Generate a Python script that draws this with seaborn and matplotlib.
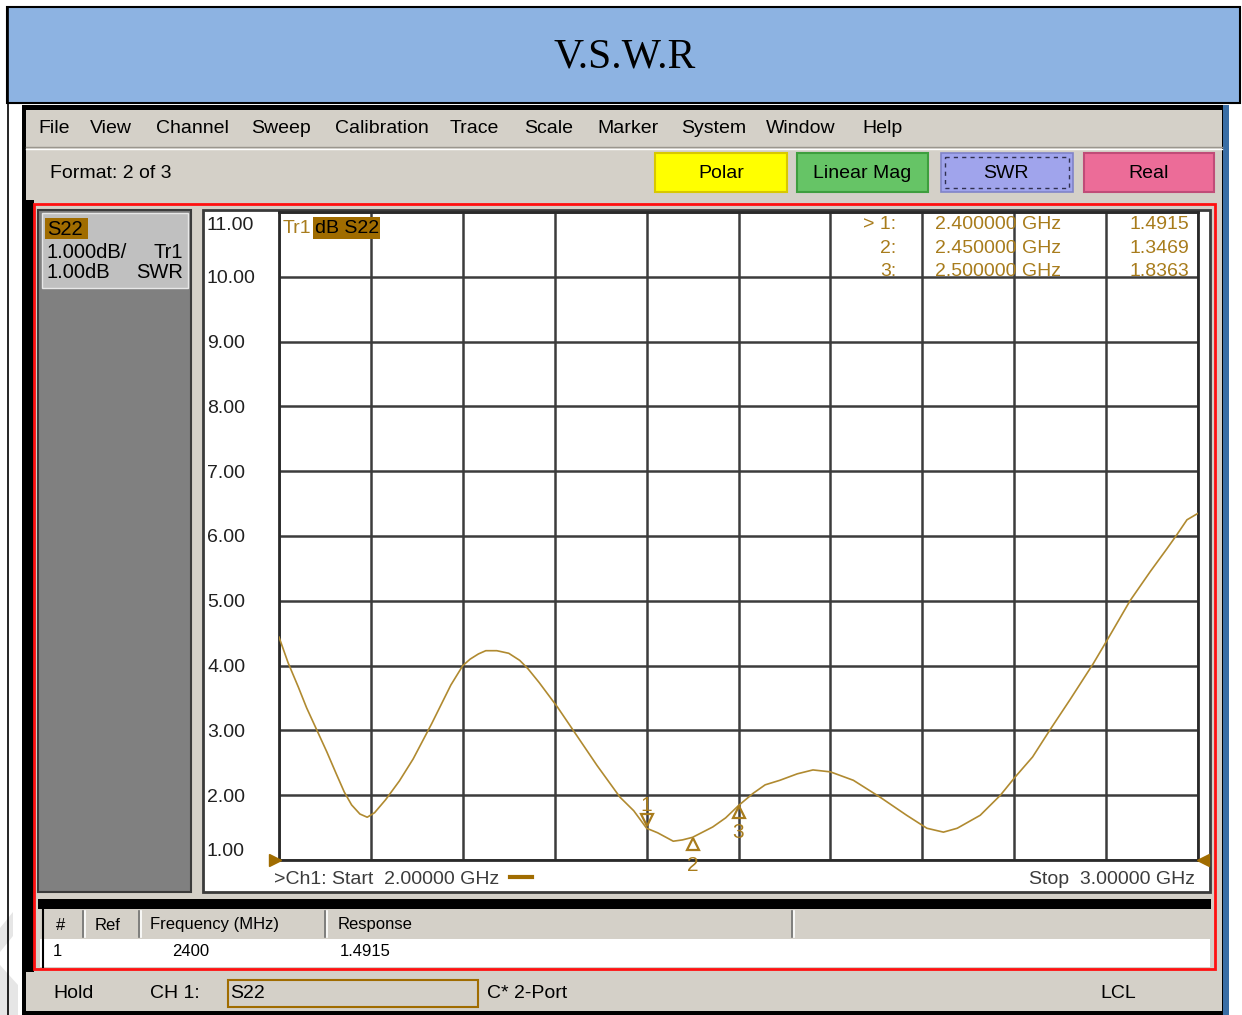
import matplotlib
matplotlib.use("Agg")
import matplotlib.pyplot as plt
import seaborn as sns
import pandas as pd
from matplotlib.patches import Rectangle, Polygon
from matplotlib.transforms import offset_copy, ScaledTranslation

# trace data (GHz, SWR)
freq_ghz = [2.000, 2.010, 2.021, 2.030, 2.041, 2.052, 2.062, 2.071, 2.079, 2.088,
            2.096, 2.104, 2.116, 2.131, 2.146, 2.166, 2.187, 2.200, 2.208, 2.217,
            2.225, 2.237, 2.250, 2.262, 2.271, 2.283, 2.303, 2.325, 2.346, 2.371,
            2.386, 2.400, 2.412, 2.429, 2.439, 2.450, 2.472, 2.486, 2.500, 2.516,
            2.529, 2.545, 2.564, 2.581, 2.600, 2.625, 2.654, 2.683, 2.705, 2.723,
            2.738, 2.763, 2.785, 2.801, 2.820, 2.839, 2.861, 2.886, 2.901, 2.926,
            2.948, 2.966, 2.977, 2.988, 3.000]
swr = [4.44, 4.04, 3.67, 3.35, 3.01, 2.67, 2.34, 2.05, 1.85, 1.71,
       1.66, 1.73, 1.93, 2.22, 2.56, 3.10, 3.70, 4.00, 4.10, 4.18,
       4.23, 4.23, 4.19, 4.08, 3.95, 3.74, 3.36, 2.90, 2.46, 1.97,
       1.76, 1.49, 1.42, 1.29, 1.31, 1.35, 1.51, 1.65, 1.84, 2.03,
       2.16, 2.23, 2.33, 2.39, 2.36, 2.23, 1.97, 1.69, 1.49, 1.43,
       1.49, 1.69, 2.00, 2.28, 2.59, 3.01, 3.48, 4.03, 4.39, 5.00,
       5.45, 5.80, 6.02, 6.25, 6.35]

marker_freq = [2.40, 2.45, 2.50]
marker_swr = [1.4915, 1.3469, 1.8363]

y_ticks = [1, 2, 3, 4, 5, 6, 7, 8, 9, 10, 11]
y_labels = ["1.00", "2.00", "3.00", "4.00", "5.00", "6.00", "7.00", "8.00", "9.00", "10.00", "11.00"]
x_ticks = [2.0, 2.1, 2.2, 2.3, 2.4, 2.5, 2.6, 2.7, 2.8, 2.9, 3.0]

menu_items = ["File", "View", "Channel", "Sweep", "Calibration", "Trace", "Scale",
              "Marker", "System", "Window", "Help"]
menu_x = [38, 90, 156, 251, 335, 450, 524, 597, 681, 766, 862]

df = pd.DataFrame({"freq": freq_ghz, "swr": swr})

plt.rcParams['font.family'] = ['Liberation Sans', 'DejaVu Sans']

W, H = 1242, 1015
UI = '#D4D0C8'
GOLD = '#A87C1C'
BROWN = '#A06C00'
TRACE = '#B08A30'

fig = plt.figure(figsize=(W / 100, H / 100), dpi=100)
bg = fig.add_axes([0, 0, 1, 1], zorder=0)
bg.set_xlim(0, W)
bg.set_ylim(H, 0)
bg.axis('off')


def rect(a, x0, y0, x1, y1, fc, ec='none', lw=0, ls='-', z=1):
    a.add_patch(Rectangle((x0, y0), x1 - x0, y1 - y0, facecolor=fc, edgecolor=ec,
                          linewidth=lw, linestyle=ls, zorder=z))


def txt(a, x, y, s, size=14, color='black', ha='left', **kw):
    a.text(x, y, s, fontsize=size, color=color, ha=ha, va='center', **kw)


# title band
rect(bg, 7, 7, 1240, 103, '#8DB3E2', 'black', 1.5)
bg.plot([8, 8], [7, 1015], color='black', lw=1.2)
txt(bg, 625, 57, "V.S.W.R", size=30, ha='center', family='Liberation Serif')
bg.add_patch(Polygon([(0, 928), (13, 912), (13, 936), (0, 952)], closed=True,
                     facecolor='#E6E6E6', edgecolor='none'))
bg.add_patch(Polygon([(0, 965), (18, 985), (18, 1015), (0, 1015)], closed=True,
                     facecolor='#E6E6E6', edgecolor='none'))

# analyzer window
rect(bg, 22, 105, 1223, 1015, 'black')
rect(bg, 1223, 105, 1229, 1015, '#3A6EA5')
rect(bg, 26, 110, 1222, 1011, UI)
bg.plot([26, 1222], [147, 147], color='#9A968E', lw=1)
bg.plot([26, 1222], [148.5, 148.5], color='white', lw=1)
for name, x in zip(menu_items, menu_x):
    txt(bg, x, 128, name)
txt(bg, 50, 173, "Format: 2 of 3")

buttons = [("Polar", 655, 787, '#FFFF00', '#D8C800'),
           ("Linear Mag", 797, 928, '#66C466', '#3E9E3E'),
           ("Real", 1084, 1214, '#EC6C98', '#C04C78')]
for label, x0, x1, fc, ec in buttons:
    rect(bg, x0, 153, x1, 192, fc, ec, 1.5)
    txt(bg, (x0 + x1) / 2, 173, label, ha='center')
rect(bg, 941, 153, 1073, 192, '#A0A4EC', '#8084C8', 1.2)
rect(bg, 945, 157, 1069, 188, 'none', '#303050', 1.0, ls=(0, (3, 3)), z=2)
txt(bg, 1006, 173, "SWR", ha='center')

# measurement area
rect(bg, 26, 200, 34, 972, 'black')
rect(bg, 34, 204, 1215, 969, UI, '#FF1010', 2)
rect(bg, 38, 210, 191, 892, '#808080', '#3A3A3A', 1.5)
rect(bg, 42, 213, 188, 288, '#C0C0C0', '#E8E8E8', 1)
rect(bg, 45, 218, 88, 239, BROWN)
txt(bg, 47, 229, "S22", size=14.5)
txt(bg, 47, 252, "1.000dB/", size=14.5)
txt(bg, 183, 252, "Tr1", size=14.5, ha='right')
txt(bg, 47, 272, "1.00dB", size=14.5)
txt(bg, 183, 272, "SWR", size=14.5, ha='right')
rect(bg, 203, 210, 1210, 892, 'white', '#3A3A3A', 2)

# marker table
rect(bg, 38, 899, 1211, 909, 'black')
rect(bg, 40, 909, 1210, 938, UI)
rect(bg, 40, 939, 1210, 967, 'white')
bg.plot([43, 43], [909, 967], color='black', lw=1.5)
for cx in [83, 139, 325, 792]:
    bg.plot([cx, cx], [911, 937], color='#707070', lw=1.2)
    bg.plot([cx + 2, cx + 2], [911, 937], color='white', lw=1.2)
txt(bg, 61, 925, "#", size=12, ha='center')
txt(bg, 95, 925, "Ref", size=12)
txt(bg, 150, 925, "Frequency (MHz)", size=12)
txt(bg, 338, 925, "Response", size=12)
txt(bg, 53, 952, "1", size=12)
txt(bg, 172, 952, "2400", size=12)
txt(bg, 340, 952, "1.4915", size=12)

# status bar
txt(bg, 53, 994, "Hold")
txt(bg, 150, 994, "CH 1:")
rect(bg, 228, 980, 478, 1007, UI, BROWN, 1.5)
txt(bg, 230, 994, "S22")
txt(bg, 487, 994, "C* 2-Port")
txt(bg, 1100, 994, "LCL")

# trace axes
L, R, T, B = 279, 1198, 212, 860
ax = fig.add_axes([L / W, (H - B) / H, (R - L) / W, (B - T) / H], zorder=1)
ax.set_facecolor('white')
sns.lineplot(data=df, x="freq", y="swr", ax=ax, color=TRACE, linewidth=1.2, zorder=3)
ax.set_xlim(2.0, 3.0)
ax.set_ylim(1, 11)
ax.set_xticks(x_ticks)
ax.set_xticklabels([])
ax.set_yticks(y_ticks)
ax.set_yticklabels(y_labels, fontsize=14, color='#202020', ha='left')
ax.tick_params(length=0, axis='y', pad=(L - 207) * 0.72)
ax.tick_params(length=0, axis='x')
ylabs = ax.get_yticklabels()
ylabs[0].set_va('bottom')
ylabs[-1].set_va('top')
ylabs[-1].set_transform(ylabs[-1].get_transform() +
                        ScaledTranslation(0, -5 / 100, fig.dpi_scale_trans))
ax.set_xlabel("")
ax.set_ylabel("")
ax.grid(True, color='#3C3C3C', linewidth=1.8)
ax.set_axisbelow(True)
for s in ax.spines.values():
    s.set_color('#2A2A2A')
    s.set_linewidth(2)

# markers
mk_off = [(8, 23, 'v'), (-6, -28, '^'), (-6, -27, '^')]
for i, (mf, mv) in enumerate(zip(marker_freq, marker_swr)):
    dy_tri, dy_num, shape = mk_off[i]
    tr = offset_copy(ax.transData, fig=fig, x=0, y=dy_tri, units='dots')
    ax.plot([mf], [mv], marker=shape, ms=9, mfc='none', mec=GOLD, mew=1.6,
            transform=tr, clip_on=False, zorder=4)
    tn = offset_copy(ax.transData, fig=fig, x=0, y=dy_num, units='dots')
    ax.text(mf, mv, str(i + 1), transform=tn, fontsize=15, color=GOLD,
            ha='center', va='center', clip_on=False, zorder=4)

# start / stop pointers
ts = offset_copy(ax.transData, fig=fig, x=-4, y=0, units='dots')
ax.plot([2.0], [1.0], marker='>', ms=9, color=BROWN, transform=ts, clip_on=False, zorder=5)
te = offset_copy(ax.transData, fig=fig, x=5, y=0, units='dots')
ax.plot([3.0], [1.0], marker='<', ms=9, color=BROWN, transform=te, clip_on=False, zorder=5)

# overlay annotations
top = fig.add_axes([0, 0, 1, 1], zorder=2)
top.set_xlim(0, W)
top.set_ylim(H, 0)
top.axis('off')
top.patch.set_alpha(0)
txt(top, 283, 228, "Tr1", color=GOLD)
rect(top, 313, 217, 380, 239, BROWN)
txt(top, 315, 228, "dB S22")
for i, (mf, mv) in enumerate(zip(marker_freq, marker_swr)):
    y = 224 + 24 * i
    txt(top, 896, y, ("> " if i == 0 else "") + f"{i + 1}:", color=GOLD, ha='right')
    txt(top, 935, y, f"{mf:.6f} GHz", color=GOLD)
    txt(top, 1189, y, f"{mv:.4f}", color=GOLD, ha='right')
txt(top, 274, 879, ">Ch1: Start  2.00000 GHz", color='#3C3C3C')
top.plot([510, 532], [877, 877], color=BROWN, lw=3)
txt(top, 1195, 879, "Stop  3.00000 GHz", color='#3C3C3C', ha='right')

fig.savefig("out.png", dpi=100)
